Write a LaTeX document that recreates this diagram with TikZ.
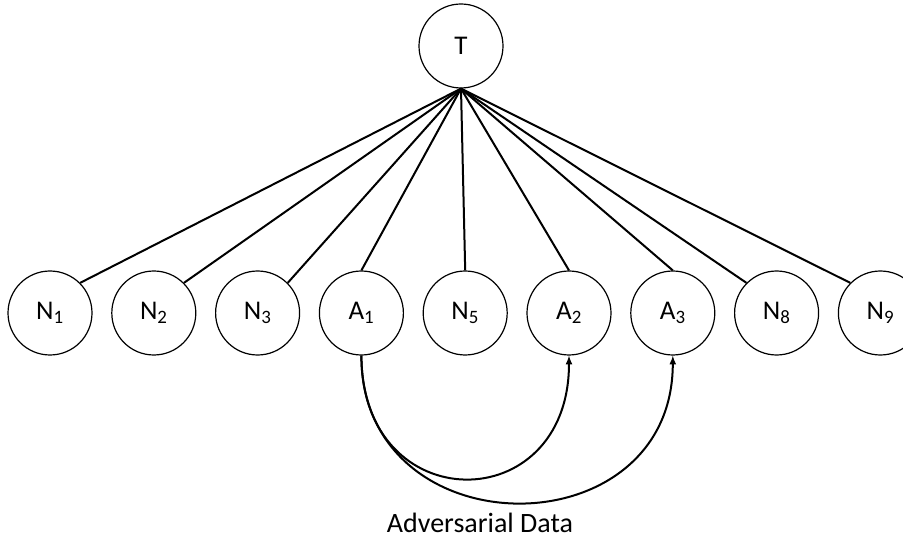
\documentclass[tikz,border=0pt]{standalone}
\usepackage{fontspec}
\setmainfont{Carlito}
\usetikzlibrary{positioning,arrows}

\begin{document}
\begin{tikzpicture}[x=1pt,y=1pt,every node/.style={draw, circle, minimum size=84pt, inner sep=0pt, line width=1.2pt, font=\fontsize{27}{30}\selectfont, node distance=18.6pt}]
	\useasboundingbox (0,0) rectangle (903,544);
	\node (t) at (461,498) {T};
	\node (n1) at (50,231) {N\textsubscript{1}};
	\node [right=of n1] (n2) {N\textsubscript{2}};
	\node [right=of n2] (n3) {N\textsubscript{3}};
	\node [right=of n3] (a1) {A\textsubscript{1}};
	\node [right=of a1] (n5) {N\textsubscript{5}};
	\node [right=of n5] (a2) {A\textsubscript{2}};
	\node [right=of a2] (a3) {A\textsubscript{3}};
	\node [right=of a3] (n8) {N\textsubscript{8}};
	\node [right=of n8] (n9) {N\textsubscript{9}};
	
	\draw[line width=2pt] (t.south) -- (n1.north east);
	\draw[line width=2pt] (t.south) -- (n2.north east);
	\draw[line width=2pt] (t.south) -- (n3.north east);
	\draw[line width=2pt] (t.south) -- (a1.north);
	\draw[line width=2pt] (t.south) -- (n5.north);
	\draw[line width=2pt] (t.south) -- (a2.north);
	\draw[line width=2pt] (t.south) -- (a3.north);
	\draw[line width=2pt] (t.south) -- (n8.north west);
	\draw[line width=2pt] (t.south) -- (n9.north west);
	
	\draw[line width=2pt,-latex] (a1.south) .. controls +(0,-164) and +(0,-164) .. (a2.south);
	\draw[line width=2pt,-latex] (a1.south) .. controls +(0,-196) and +(0,-196) .. (a3.south);
	
	\node [draw=none, rectangle, font=\fontsize{28}{31}\selectfont] (lbl) at (480,21) {Adversarial Data};
\end{tikzpicture}
\end{document}
